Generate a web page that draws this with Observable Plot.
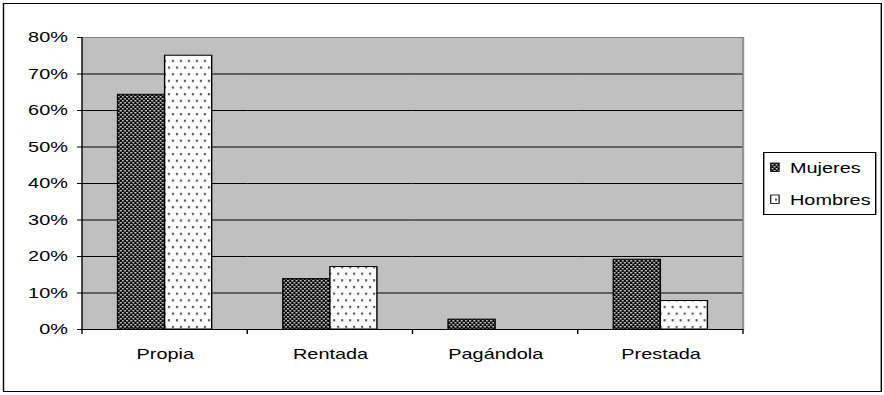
<!DOCTYPE html>
<html>
<head>
<meta charset="utf-8">
<script src="https://cdn.jsdelivr.net/npm/d3@7"></script>
<script src="https://cdn.jsdelivr.net/npm/@observablehq/plot@0.6"></script>
<style>
  body { margin: 0; background: #fff; }
  /* the chart is laid out at a narrower width and widened horizontally */
  #stage {
    position: relative;
    width: 631.43px;
    height: 395px;
    transform: scaleX(1.4);
    transform-origin: 0 0;
    font-family: "Liberation Sans", Arial, sans-serif;
  }
  #border {
    position: absolute; left: 2px; top: 3px; width: 628px; height: 389px;
    border: 1px solid #000; box-sizing: border-box; pointer-events: none;
  }
  #legend {
    position: absolute; left: 545px; top: 152px; width: 81.4px; height: 63px;
    border: 1px solid #000; box-sizing: border-box; background: #fff;
  }
  #legend svg { position: absolute; left: -1px; top: -1px; overflow: visible; }
  #chart { position: absolute; left: 0; top: 0; }
</style>
</head>
<body>
<div id="stage">
  <div id="chart"></div>
  <div id="border"></div>
  <div id="legend"></div>
</div>
<script>
// Vivienda: porcentaje por tipo de tenencia, mujeres y hombres
const categories = ["Propia", "Rentada", "Pagándola", "Prestada"];
const series = ["Mujeres", "Hombres"];
const mujeres = [0.643, 0.138, 0.027, 0.191];
const hombres = [0.75, 0.171, 0, 0.078];
const yTicks = [0, 0.1, 0.2, 0.3, 0.4, 0.5, 0.6, 0.7, 0.8];
const patternIds = ["pat-mujeres", "pat-hombres"];

const rows = categories.flatMap((c, i) => [
  {categoria: c, serie: series[0], valor: mujeres[i]},
  {categoria: c, serie: series[1], valor: hombres[i]}
]);

const W = 631.43, H = 395;
const font = '"Liberation Sans", Arial, sans-serif';

const chart = Plot.plot({
  width: W,
  height: H,
  marginLeft: 58.57,
  marginRight: 100.72,
  marginTop: 37,
  marginBottom: 66,
  style: {fontFamily: font, fontSize: "14.2px", color: "#000", background: "transparent", overflow: "visible"},
  fx: {domain: categories, padding: 0, round: false, label: null},
  x: {domain: series, paddingInner: 0, paddingOuter: 0.756, round: false, axis: null},
  y: {domain: [0, 0.8], label: null},
  color: {domain: series, range: patternIds.map(id => `url(#${id})`)},
  marks: [
    Plot.frame({fill: "#c0c0c0", stroke: "#c0c0c0"}),
    Plot.ruleY(yTicks.slice(1, -1), {stroke: "#000"}),
    Plot.ruleY([0.8], {stroke: "#808080"}),
    Plot.barY(rows, {fx: "categoria", x: "serie", y: "valor", fill: "serie", stroke: "#000", strokeWidth: 1}),
    Plot.ruleY([0], {stroke: "#000"}),
    Plot.axisY({ticks: yTicks, tickFormat: d3.format(".0%"), tickSize: 3.6, tickPadding: 7, label: null}),
    Plot.axisFx({anchor: "bottom", tickSize: 0, tickPadding: 19, label: null})
  ]
});

// fill patterns for the two series
const svg = d3.select(chart);
const defs = svg.insert("defs", ":first-child");
const pm = defs.append("pattern").attr("id", patternIds[0])
  .attr("patternUnits", "userSpaceOnUse").attr("width", 3).attr("height", 4);
pm.append("rect").attr("width", 3).attr("height", 4).attr("fill", "#000");
pm.append("rect").attr("x", 0).attr("y", 0).attr("width", 1.5).attr("height", 1.5).attr("fill", "#c8c8c8");
pm.append("rect").attr("x", 1.5).attr("y", 2).attr("width", 1.5).attr("height", 1.5).attr("fill", "#c8c8c8");
const ph = defs.append("pattern").attr("id", patternIds[1])
  .attr("patternUnits", "userSpaceOnUse").attr("width", 5.71).attr("height", 13.3);
ph.append("rect").attr("width", 5.71).attr("height", 13.3).attr("fill", "#fff");
ph.append("rect").attr("x", 0).attr("y", 0).attr("width", 1.5).attr("height", 2.2).attr("fill", "#555");
ph.append("rect").attr("x", 2.86).attr("y", 6.65).attr("width", 1.5).attr("height", 2.2).attr("fill", "#555");

// axis line, plot-area border and category dividers
const fx = chart.scale("fx"), y = chart.scale("y");
const left = fx.apply(categories[0]);
const right = fx.apply(categories[categories.length - 1]) + fx.bandwidth;
const y0 = y.apply(0), y1 = y.apply(0.8);
const g = svg.append("g");
g.append("line").attr("x1", right).attr("x2", right).attr("y1", y1).attr("y2", y0).attr("stroke", "#808080");
g.append("line").attr("x1", left).attr("x2", left).attr("y1", y1).attr("y2", y0).attr("stroke", "#000");
const bounds = categories.map(c => fx.apply(c)).concat([right]);
g.selectAll("line.div").data(bounds).join("line").attr("class", "div")
  .attr("x1", d => d).attr("x2", d => d).attr("y1", y0).attr("y2", y0 + 5).attr("stroke", "#000");

document.getElementById("chart").appendChild(chart);

// legend
const lg = d3.select("#legend").append("svg").attr("width", 81.4).attr("height", 63);
const items = [{label: series[0], id: patternIds[0], y: 11}, {label: series[1], id: patternIds[1], y: 43}];
items.forEach(it => {
  lg.append("rect").attr("x", 5.5).attr("y", it.y).attr("width", 6).attr("height", 8.5)
    .attr("fill", `url(#${it.id})`).attr("stroke", "#000").attr("stroke-width", 0.8);
  lg.append("text").attr("x", 19.3).attr("y", it.y + 10).attr("font-family", font)
    .attr("font-size", 14.2).text(it.label);
});
</script>
</body>
</html>
